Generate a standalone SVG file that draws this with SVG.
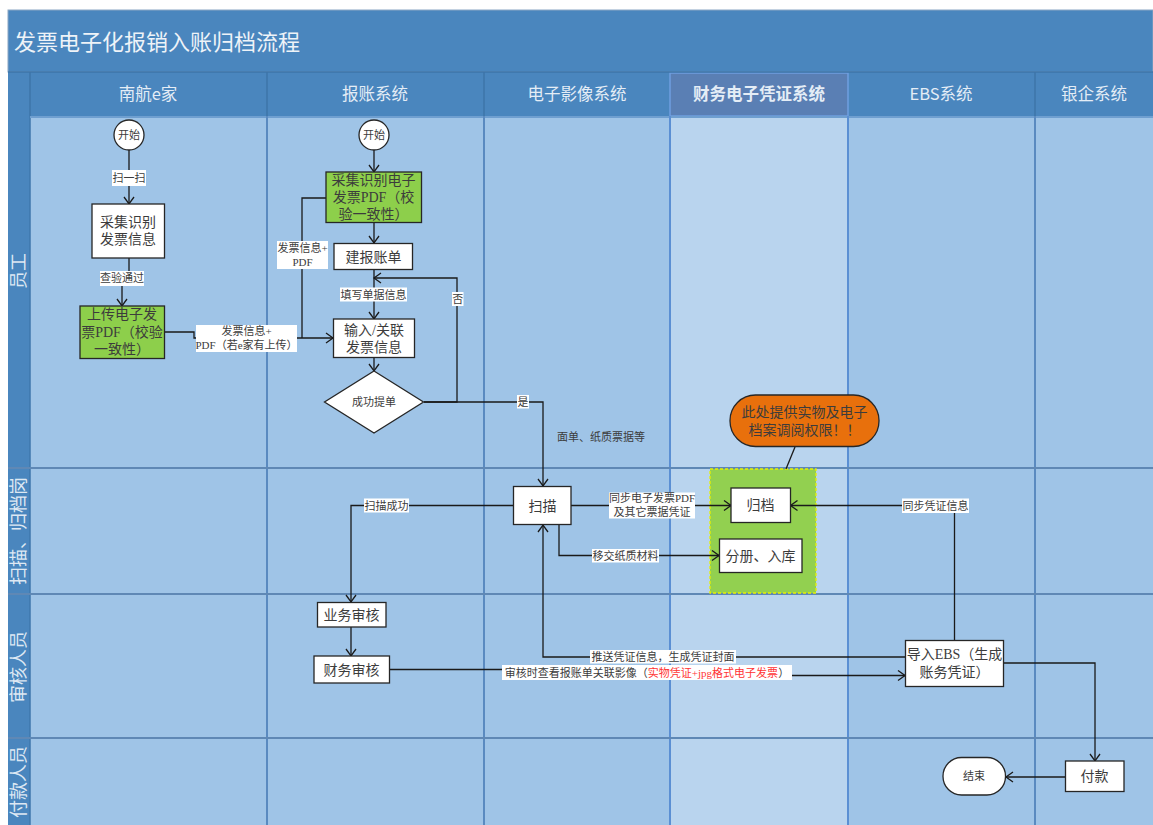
<svg xmlns="http://www.w3.org/2000/svg" width="1153" height="825" viewBox="0 0 1153 825">
<defs>
<marker id="arr" markerUnits="userSpaceOnUse" markerWidth="10" markerHeight="12" viewBox="0 0 10 12" refX="8" refY="6" orient="auto">
<path d="M1,1 L8,6 L1,11" fill="none" stroke="#1a1a1a" stroke-width="1.3"/>
</marker>
<style>
.band{fill:#4a86be}
.body{fill:#9fc4e7}
.hl{fill:#b9d4ee}
.vline{stroke:#5a8ac0;stroke-width:2}
.hline{stroke:#5f88b5;stroke-width:2}
.hsep{stroke:#3e74a8;stroke-width:1.5}
.hdr{font-family:"Noto Sans CJK SC",sans-serif;font-size:16.5px;fill:#e4edf6;text-anchor:middle}
.rowt{font-family:"Noto Sans CJK SC",sans-serif;font-size:18px;fill:#dde8f3;text-anchor:middle}
.box{fill:#ffffff;stroke:#262626;stroke-width:1.3}
.gbox{fill:#8dcf4b;stroke:#262626;stroke-width:1.3}
.nt{font-family:"Liberation Serif","Noto Sans CJK SC",serif;font-size:14px;fill:#3c3c3c;text-anchor:middle}
.st{font-family:"Noto Sans CJK SC",sans-serif;font-size:11px;fill:#3c3c3c;text-anchor:middle}
.lb{font-family:"Liberation Serif","Noto Sans CJK SC",serif;font-size:11px;fill:#3c3c3c;text-anchor:middle}
.lbg{fill:#ffffff}
.edge{fill:none;stroke:#1a1a1a;stroke-width:1.3}
</style>
</defs>

<!-- background -->
<rect x="8" y="10" width="1145" height="62" class="band" stroke="#8aa6c4" stroke-width="1"/>
<text x="14" y="50" font-family="Noto Sans CJK SC, sans-serif" font-size="22" fill="#eef3f8">发票电子化报销入账归档流程</text>
<rect x="8" y="72" width="1145" height="44" class="band"/>
<rect x="670" y="73" width="178" height="43" fill="#5a7fb4" stroke="#6f9fe0" stroke-width="1.5"/>
<line x1="8" y1="72" x2="1153" y2="72" class="hsep"/>
<line x1="30" y1="72" x2="30" y2="116" class="hsep"/>
<line x1="267" y1="72" x2="267" y2="116" class="hsep"/>
<line x1="484" y1="72" x2="484" y2="116" class="hsep"/>
<line x1="1035" y1="72" x2="1035" y2="116" class="hsep"/>
<rect x="30" y="116" width="1123" height="709" class="body"/>
<rect x="670" y="116" width="178" height="709" class="hl"/>
<rect x="8" y="116" width="22" height="709" class="band"/>
<line x1="30" y1="116" x2="30" y2="825" stroke="#3f77ad" stroke-width="1.5"/>
<line x1="30" y1="117" x2="1153" y2="117" stroke="#6f9fd0" stroke-width="2"/>
<line x1="267" y1="116" x2="267" y2="825" class="vline"/>
<line x1="484" y1="116" x2="484" y2="825" class="vline"/>
<line x1="670" y1="116" x2="670" y2="825" stroke="#5b8fd3" stroke-width="2"/>
<line x1="848" y1="116" x2="848" y2="825" stroke="#5b8fd3" stroke-width="2"/>
<line x1="1035" y1="116" x2="1035" y2="825" class="vline"/>
<line x1="8" y1="468" x2="1153" y2="468" class="hline"/>
<line x1="8" y1="594" x2="1153" y2="594" class="hline"/>
<line x1="8" y1="738" x2="1153" y2="738" class="hline"/>

<!-- headers -->
<g id="headers">
<text x="148" y="100" class="hdr">南航e家</text>
<text x="375" y="100" class="hdr">报账系统</text>
<text x="577" y="100" class="hdr">电子影像系统</text>
<text x="759" y="100" class="hdr" font-weight="bold" fill="#ffffff">财务电子凭证系统</text>
<text x="941" y="100" class="hdr">EBS系统</text>
<text x="1094" y="100" class="hdr">银企系统</text>
</g>
<g id="rows">
<text class="rowt" transform="translate(25,271) rotate(-90)">员工</text>
<text class="rowt" transform="translate(25,531) rotate(-90)">扫描、归档岗</text>
<text class="rowt" transform="translate(25,667) rotate(-90)">审核人员</text>
<text class="rowt" transform="translate(25,782) rotate(-90)">付款人员</text>
</g>

<!-- archive zone -->
<g id="archive-zone">
<rect x="710" y="469" width="106" height="124" fill="#92d050" stroke="#e8f000" stroke-width="1.3" stroke-dasharray="3,2"/>
</g>

<!-- connectors -->
<g id="connectors">
<path class="edge" d="M129,150 V204" marker-end="url(#arr)"/>
<path class="edge" d="M129,258 V277 H122 V306" marker-end="url(#arr)"/>
<path class="edge" d="M165,332 H194 V338 H333" marker-end="url(#arr)"/>
<path class="edge" d="M326,198 H302 V338"/>
<path class="edge" d="M374,149 V172" marker-end="url(#arr)"/>
<path class="edge" d="M374,222 V243" marker-end="url(#arr)"/>
<path class="edge" d="M374,269 V319" marker-end="url(#arr)"/>
<path class="edge" d="M374,357 V371" marker-end="url(#arr)"/>
<path class="edge" d="M424,402 H457 V278 H374" marker-end="url(#arr)"/>
<path class="edge" d="M424,402 H543 V486" marker-end="url(#arr)"/>
<path class="edge" d="M571,505.5 H731" marker-end="url(#arr)"/>
<path class="edge" d="M559,525 V555.5 H719" marker-end="url(#arr)"/>
<path class="edge" d="M513,505.5 H351 V602" marker-end="url(#arr)"/>
<path class="edge" d="M351,627 V656" marker-end="url(#arr)"/>
<path class="edge" d="M389,669.5 H620 V675.5 H905" marker-end="url(#arr)"/>
<path class="edge" d="M905,657 H543 V525" marker-end="url(#arr)"/>
<path class="edge" d="M954.5,640.5 V505.5 H790.5" marker-end="url(#arr)"/>
<path class="edge" d="M1003.5,663 H1095 V761" marker-end="url(#arr)"/>
<path class="edge" d="M1065,777 H1006" marker-end="url(#arr)"/>
<path class="edge" d="M795,447 L786,469"/>

<rect class="lbg" x="112" y="170" width="34" height="16"/>
<text class="st" x="129" y="182">扫一扫</text>
<rect class="lbg" x="100" y="271" width="44" height="15"/>
<text class="st" x="122" y="282">查验通过</text>
<rect class="lbg" x="196" y="325" width="101" height="27"/>
<text class="lb" x="246.5" y="335">发票信息+</text>
<text class="lb" x="246.5" y="349">PDF（若e家有上传）</text>
<rect class="lbg" x="277" y="241" width="51" height="28"/>
<text class="lb" x="302.5" y="252">发票信息+</text>
<text class="lb" x="302.5" y="265.5">PDF</text>
<rect class="lbg" x="340" y="287.5" width="67" height="14"/>
<text class="st" x="373.5" y="298.5">填写单据信息</text>
<rect class="lbg" x="452" y="292" width="11.5" height="14"/>
<text class="st" x="457.7" y="303">否</text>
<rect class="lbg" x="517" y="395" width="12" height="13.5"/>
<text class="st" x="523" y="406">是</text>
<text class="st" x="601" y="441">面单、纸质票据等</text>
<rect class="lbg" x="609" y="492.5" width="86" height="26"/>
<text class="lb" x="652" y="502" font-size="10.5">同步电子发票PDF</text>
<text class="lb" x="652" y="516" font-size="10.5">及其它票据凭证</text>
<rect class="lbg" x="592" y="549" width="67" height="13.5"/>
<text class="st" x="625.5" y="560">移交纸质材料</text>
<rect class="lbg" x="364" y="498.5" width="45" height="14"/>
<text class="st" x="386.5" y="509.5">扫描成功</text>
<rect class="lbg" x="902" y="498.5" width="67" height="14.5"/>
<text class="st" x="935.5" y="509.5">同步凭证信息</text>
<rect class="lbg" x="590" y="650" width="146" height="13.5"/>
<text class="st" x="663" y="661">推送凭证信息，生成凭证封面</text>
<rect class="lbg" x="502" y="665" width="290" height="15"/>
<text class="lb" x="647" y="676.5">审核时查看报账单关联影像（<tspan fill="#ff3333">实物凭证+jpg格式电子发票</tspan>）</text>
</g>

<!-- nodes -->
<g id="start1">
<circle cx="129" cy="135" r="15" class="box"/>
<text class="st" x="129" y="139">开始</text>
</g>
<g id="collect1">
<rect x="92" y="204" width="72.5" height="54" class="box"/>
<text class="nt" x="128" y="227">采集识别</text>
<text class="nt" x="128" y="244">发票信息</text>
</g>
<g id="upload">
<rect x="80" y="306" width="84.5" height="52.5" class="gbox"/>
<text class="nt" x="122" y="319">上传电子发</text>
<text class="nt" x="122" y="336.5">票PDF（校验</text>
<text class="nt" x="122" y="354">一致性）</text>
</g>
<g id="start2">
<circle cx="374" cy="135" r="15" class="box"/>
<text class="st" x="374" y="139">开始</text>
</g>
<g id="collect2">
<rect x="326" y="172" width="95.5" height="50.5" class="gbox"/>
<text class="nt" x="373.5" y="184.5">采集识别电子</text>
<text class="nt" x="373.5" y="201.5">发票PDF（校</text>
<text class="nt" x="373.5" y="218.5">验一致性）</text>
</g>
<g id="create-bill">
<rect x="334" y="243.5" width="78.5" height="26" class="box"/>
<text class="nt" x="373.5" y="261.5">建报账单</text>
</g>
<g id="input-invoice">
<rect x="333.5" y="319" width="81" height="38.5" class="box"/>
<text class="nt" x="374" y="334.5">输入/关联</text>
<text class="nt" x="374" y="352">发票信息</text>
</g>
<g id="submit">
<polygon points="374,371 423.5,402 374,433 324.5,402" class="box"/>
<text class="st" x="374" y="406">成功提单</text>
</g>
<g id="scan">
<rect x="513.5" y="486.5" width="57.5" height="38" class="box"/>
<text class="nt" x="542.5" y="510.5">扫描</text>
</g>
<g id="archive">
<rect x="731" y="488" width="59.5" height="34.5" class="box"/>
<text class="nt" x="760.5" y="510">归档</text>
</g>
<g id="volume">
<rect x="719.5" y="539" width="82.5" height="33.5" class="box"/>
<text class="nt" x="760.5" y="560.5">分册、入库</text>
</g>
<g id="callout">
<rect x="730" y="395" width="149" height="51.5" rx="25.5" ry="25.5" fill="#e8700c" stroke="#262626" stroke-width="1.3"/>
<text class="nt" x="804.5" y="416.5" fill="#2b1a0a">此处提供实物及电子</text>
<text class="nt" x="804.5" y="435" fill="#2b1a0a">档案调阅权限！！</text>
</g>
<g id="biz-review">
<rect x="317.5" y="602.5" width="68.5" height="24.5" class="box"/>
<text class="nt" x="351.5" y="620">业务审核</text>
</g>
<g id="fin-review">
<rect x="314" y="656" width="75.5" height="27" class="box"/>
<text class="nt" x="351.5" y="674.5">财务审核</text>
</g>
<g id="ebs-import">
<rect x="905.5" y="640.5" width="98" height="46" class="box"/>
<text class="nt" x="954.5" y="658.5">导入EBS（生成</text>
<text class="nt" x="954.5" y="677">账务凭证）</text>
</g>
<g id="pay">
<rect x="1065.5" y="761" width="58.5" height="30.5" class="box"/>
<text class="nt" x="1094.5" y="781">付款</text>
</g>
<g id="end">
<rect x="943" y="757.5" width="62.5" height="37.5" rx="18.5" ry="18.5" class="box"/>
<text class="st" x="974" y="780">结束</text>
</g>
</svg>
